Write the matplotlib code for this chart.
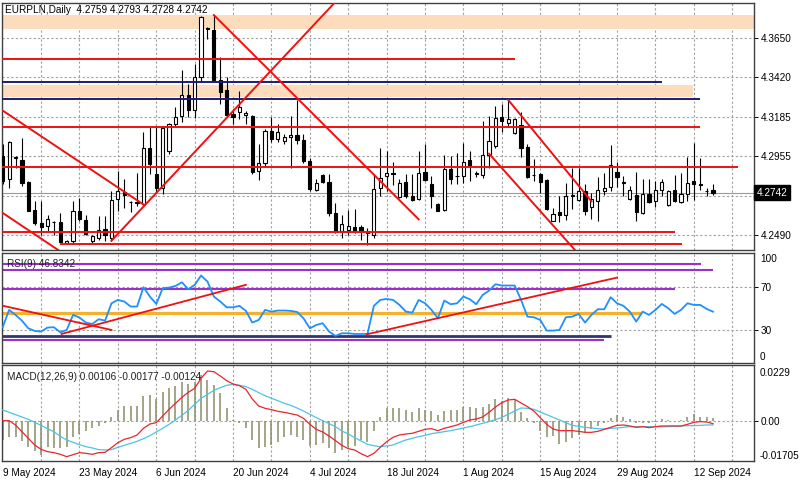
import matplotlib
matplotlib.use("Agg")
import matplotlib.pyplot as plt
import matplotlib.transforms as mtransforms
from matplotlib.patches import Rectangle

plt.rcParams['font.family'] = ['Liberation Sans', 'DejaVu Sans']

symbol = "EURPLN"
timeframe = "Daily"

opens = [4.2958, 4.2820, 4.2950, 4.2932, 4.2806, 4.2642, 4.2563, 4.2543, 4.2567, 4.2569,
         4.2447, 4.2455, 4.2636, 4.2583, 4.2455, 4.2478, 4.2530, 4.2478, 4.2707, 4.2747,
         4.2689, 4.2684, 4.2676, 4.3007, 4.2853, 4.2768, 4.2987, 4.3145, 4.3194, 4.3319,
         4.3230, 4.3421, 4.3709, 4.3697, 4.3405, 4.3346, 4.3204, 4.3214, 4.3200, 4.3194,
         4.2869, 4.2918, 4.3106, 4.3056, 4.3043, 4.3070, 4.3080, 4.3050, 4.2928, 4.2760,
         4.2845, 4.2806, 4.2622, 4.2514, 4.2524, 4.2540, 4.2540, 4.2514, 4.2490, 4.2770,
         4.2841, 4.2855, 4.2715, 4.2804, 4.2725, 4.2707, 4.2865, 4.2794, 4.2678, 4.2642,
         4.2879, 4.2837, 4.2839, 4.2934, 4.2857, 4.2843, 4.2964, 4.3017, 4.3188, 4.3149,
         4.3092, 4.3141, 4.3011, 4.2847, 4.2849, 4.2814, 4.2577, 4.2626, 4.2609, 4.2725,
         4.2701, 4.2751, 4.2656, 4.2695, 4.2751, 4.2776, 4.2865, 4.2802, 4.2705, 4.2727,
         4.2622, 4.2731, 4.2695, 4.2760, 4.2668, 4.2757, 4.2687, 4.2735, 4.2810, 4.2792,
         4.2753, 4.2759]
highs = [4.3027, 4.3047, 4.2958, 4.3066, 4.2810, 4.2691, 4.2691, 4.2609, 4.2577, 4.2622,
         4.2465, 4.2691, 4.2711, 4.2613, 4.2494, 4.2603, 4.2603, 4.2751, 4.2869, 4.2820,
         4.2695, 4.2859, 4.3096, 4.3129, 4.3135, 4.3135, 4.3149, 4.3244, 4.3465, 4.3378,
         4.3500, 4.3780, 4.3717, 4.3786, 4.3540, 4.3421, 4.3234, 4.3342, 4.3224, 4.3200,
         4.3027, 4.3116, 4.3188, 4.3145, 4.3086, 4.3194, 4.3287, 4.3086, 4.2948, 4.2820,
         4.2853, 4.2849, 4.2682, 4.2613, 4.2638, 4.2646, 4.2553, 4.2534, 4.2849, 4.3007,
         4.2987, 4.2924, 4.2820, 4.2849, 4.2849, 4.2987, 4.3027, 4.2839, 4.2682, 4.2964,
         4.2958, 4.2977, 4.3031, 4.2987, 4.2869, 4.3165, 4.3194, 4.3254, 4.3263, 4.3287,
         4.3181, 4.3214, 4.3027, 4.2938, 4.2859, 4.2820, 4.2652, 4.2721, 4.2800, 4.2889,
         4.2889, 4.2790, 4.2741, 4.2833, 4.2859, 4.3023, 4.2924, 4.2839, 4.2780, 4.2865,
         4.2820, 4.2820, 4.2810, 4.2820, 4.2760, 4.2845, 4.2859, 4.2954, 4.3031, 4.2944,
         4.2770, 4.2793]
lows = [4.2790, 4.2770, 4.2889, 4.2780, 4.2632, 4.2553, 4.2494, 4.2514, 4.2490, 4.2445,
        4.2441, 4.2445, 4.2573, 4.2490, 4.2445, 4.2465, 4.2455, 4.2455, 4.2632, 4.2652,
        4.2628, 4.2662, 4.2668, 4.2849, 4.2741, 4.2731, 4.2968, 4.3125, 4.3155, 4.3185,
        4.3181, 4.3392, 4.3648, 4.3398, 4.3263, 4.3188, 4.3145, 4.3175, 4.3145, 4.2853,
        4.2814, 4.2899, 4.3037, 4.3037, 4.3027, 4.2889, 4.3027, 4.2918, 4.2751, 4.2751,
        4.2800, 4.2603, 4.2504, 4.2474, 4.2490, 4.2504, 4.2465, 4.2435, 4.2478, 4.2721,
        4.2751, 4.2786, 4.2711, 4.2711, 4.2691, 4.2701, 4.2810, 4.2652, 4.2632, 4.2636,
        4.2790, 4.2790, 4.2800, 4.2810, 4.2833, 4.2829, 4.2889, 4.3007, 4.3096, 4.3125,
        4.3086, 4.2954, 4.2829, 4.2810, 4.2741, 4.2642, 4.2573, 4.2569, 4.2583, 4.2648,
        4.2695, 4.2609, 4.2587, 4.2573, 4.2727, 4.2751, 4.2774, 4.2721, 4.2701, 4.2577,
        4.2616, 4.2682, 4.2656, 4.2721, 4.2662, 4.2687, 4.2682, 4.2691, 4.2701, 4.2760,
        4.2721, 4.2728]
closes = [4.2810, 4.3041, 4.2946, 4.2796, 4.2636, 4.2563, 4.2538, 4.2589, 4.2571, 4.2451,
          4.2459, 4.2636, 4.2589, 4.2498, 4.2484, 4.2524, 4.2490, 4.2701, 4.2751, 4.2727,
          4.2685, 4.2680, 4.3003, 4.2908, 4.2770, 4.3123, 4.3145, 4.3188, 4.3319, 4.3228,
          4.3421, 4.3772, 4.3703, 4.3402, 4.3332, 4.3200, 4.3188, 4.3248, 4.3208, 4.2865,
          4.2918, 4.3106, 4.3060, 4.3096, 4.3070, 4.3082, 4.3050, 4.2928, 4.2766, 4.2800,
          4.2806, 4.2622, 4.2514, 4.2557, 4.2547, 4.2518, 4.2514, 4.2504, 4.2766, 4.2829,
          4.2855, 4.2851, 4.2800, 4.2721, 4.2701, 4.2859, 4.2816, 4.2721, 4.2636, 4.2879,
          4.2820, 4.2841, 4.2924, 4.2899, 4.2853, 4.2962, 4.3047, 4.3181, 4.3161, 4.3175,
          4.3175, 4.3003, 4.2835, 4.2843, 4.2806, 4.2648, 4.2616, 4.2609, 4.2725, 4.2729,
          4.2751, 4.2632, 4.2707, 4.2760, 4.2770, 4.2903, 4.2835, 4.2798, 4.2760, 4.2628,
          4.2731, 4.2687, 4.2757, 4.2806, 4.2751, 4.2691, 4.2731, 4.2800, 4.2790, 4.2788,
          4.2749, 4.2742]

rsi = [32.5, 48.5, 43.9, 38.6, 31.5, 29.1, 28.5, 32.2, 32.5, 27.8,
       30.0, 43.9, 41.4, 36.8, 35.5, 39.9, 38.6, 54.6, 57.7, 56.2,
       51.6, 51.6, 69.4, 60.8, 54.0, 68.5, 69.1, 70.6, 74.0, 67.5,
       71.6, 80.2, 74.6, 60.8, 56.2, 50.9, 50.9, 52.2, 47.6, 36.8,
       39.2, 48.5, 46.9, 47.9, 47.9, 47.6, 46.6, 40.8, 31.5, 34.6,
       36.2, 28.5, 24.5, 26.9, 26.9, 26.3, 26.3, 26.3, 52.2, 57.7,
       58.6, 57.7, 53.1, 46.9, 46.0, 57.7, 54.6, 48.5, 40.8, 57.1,
       53.7, 54.6, 60.8, 58.3, 53.7, 62.3, 66.3, 72.2, 71.0, 71.0,
       71.0, 57.7, 42.3, 41.7, 39.2, 29.4, 29.4, 30.0, 41.7, 42.3,
       44.8, 36.8, 43.9, 49.1, 49.1, 60.2, 54.6, 52.2, 46.9, 37.7,
       46.9, 43.9, 48.5, 54.0, 50.0, 44.8, 48.5, 54.6, 53.1, 53.1,
       49.4, 46.8342]

macd_main = [0.00000, 0.00000, -0.00179, -0.00455, -0.00730, -0.01005, -0.01185, -0.01281, -0.01322, -0.01391,
             -0.01488, -0.01405, -0.01322, -0.01350, -0.01391, -0.01322, -0.01309, -0.01116, -0.00909, -0.00771,
             -0.00702, -0.00592, -0.00317, -0.00138, -0.00083, 0.00193, 0.00468, 0.00716, 0.00964, 0.01171,
             0.01336, 0.01749, 0.02052, 0.02025, 0.01846, 0.01653, 0.01515, 0.01446, 0.01295, 0.00895,
             0.00606, 0.00510, 0.00455, 0.00386, 0.00344, 0.00289, 0.00234, 0.00096, -0.00152, -0.00358,
             -0.00468, -0.00634, -0.00826, -0.01019, -0.01157, -0.01212, -0.01364, -0.01488, -0.01350, -0.01102,
             -0.00868, -0.00689, -0.00592, -0.00551, -0.00523, -0.00441, -0.00358, -0.00331, -0.00413, -0.00317,
             -0.00248, -0.00179, -0.00069, 0.00028, 0.00069, 0.00152, 0.00344, 0.00565, 0.00744, 0.00854,
             0.00882, 0.00730, 0.00578, 0.00399, 0.00124, -0.00152, -0.00344, -0.00413, -0.00413, -0.00413,
             -0.00441, -0.00482, -0.00482, -0.00441, -0.00358, -0.00275, -0.00193, -0.00179, -0.00220, -0.00275,
             -0.00248, -0.00289, -0.00248, -0.00220, -0.00220, -0.00220, -0.00220, -0.00152, -0.00069, -0.00041,
             -0.00055, -0.00124]
macd_signal = [0.00441, 0.00344, 0.00248, 0.00152, 0.00055, -0.00069, -0.00193, -0.00331, -0.00455, -0.00647,
               -0.00799, -0.00895, -0.00992, -0.01074, -0.01129, -0.01198, -0.01212, -0.01198, -0.01102, -0.01019,
               -0.00937, -0.00854, -0.00744, -0.00620, -0.00468, -0.00317, -0.00152, 0.00028, 0.00220, 0.00427,
               0.00675, 0.00923, 0.01088, 0.01253, 0.01363, 0.01460, 0.01501, 0.01460, 0.01405, 0.01295,
               0.01157, 0.01033, 0.00923, 0.00826, 0.00716, 0.00634, 0.00523, 0.00399, 0.00262, 0.00124,
               0.00000, -0.00124, -0.00248, -0.00427, -0.00551, -0.00702, -0.00840, -0.00978, -0.01033, -0.01074,
               -0.01047, -0.01005, -0.00895, -0.00799, -0.00730, -0.00661, -0.00606, -0.00537, -0.00496, -0.00455,
               -0.00413, -0.00358, -0.00303, -0.00248, -0.00179, -0.00110, -0.00041, 0.00041, 0.00138, 0.00262,
               0.00399, 0.00523, 0.00510, 0.00468, 0.00358, 0.00248, 0.00138, 0.00028, -0.00083, -0.00193,
               -0.00234, -0.00275, -0.00303, -0.00331, -0.00344, -0.00317, -0.00303, -0.00275, -0.00248, -0.00248,
               -0.00248, -0.00248, -0.00248, -0.00248, -0.00248, -0.00234, -0.00220, -0.00207, -0.00207, -0.00193,
               -0.00179, -0.00177]
macd_hist = [-0.00799, -0.00661, -0.00661, -0.00826, -0.01074, -0.01239, -0.01418, -0.01102, -0.01143, -0.01143,
             -0.01102, -0.00689, -0.00551, -0.00413, -0.00317, -0.00220, -0.00110, 0.00138, 0.00441, 0.00620,
             0.00620, 0.00620, 0.01019, 0.01060, 0.00881, 0.01198, 0.01363, 0.01432, 0.01611, 0.01515,
             0.01611, 0.01886, 0.01680, 0.01473, 0.01129, 0.00510, 0.00020, -0.00083, -0.00317, -0.00799,
             -0.01143, -0.01102, -0.01005, -0.00868, -0.00661, -0.00592, -0.00661, -0.00799, -0.01047, -0.01005,
             -0.00936, -0.01143, -0.01322, -0.01212, -0.01074, -0.01047, -0.00799, -0.00868, -0.00413, 0.00138,
             0.00510, 0.00537, 0.00510, 0.00441, 0.00372, 0.00510, 0.00441, 0.00413, 0.00234, 0.00413,
             0.00441, 0.00441, 0.00551, 0.00578, 0.00510, 0.00578, 0.00689, 0.00881, 0.00826, 0.00923,
             0.00881, 0.00372, 0.00096, -0.00083, -0.00413, -0.00689, -0.00633, -0.00964, -0.00868, -0.00730,
             -0.00592, -0.00496, -0.00358, -0.00220, -0.00110, 0.00096, 0.00234, 0.00165, 0.00055, -0.00083,
             -0.00083, -0.00110, -0.00041, 0.00055, 0.00028, 0.00000, 0.00028, 0.00165, 0.00262, 0.00165,
             0.00138, 0.00106]

date_ticks = [0, 12, 24, 36, 48, 60, 72, 84, 96, 108]
date_labels = ["9 May 2024", "23 May 2024", "6 Jun 2024", "20 Jun 2024", "4 Jul 2024",
               "18 Jul 2024", "1 Aug 2024", "15 Aug 2024", "29 Aug 2024", "12 Sep 2024"]
price_ticks = [4.3650, 4.3420, 4.3185, 4.2955, 4.2490]
price_grid = [4.3650, 4.3420, 4.3185, 4.2955, 4.2720, 4.2490]

# drawn objects (bar index, price)
zone_low = [4.3707, 4.3303]
zone_high = [4.3786, 4.3372]
zone_end = [118.0, 107.8]
red_levels = [4.3528, 4.3128, 4.2893, 4.2508, 4.2439]
red_start = [-1.0, -1.0, -1.0, -1.0, 9.0]
red_end = [80.0, 109.0, 114.9, 105.0, 106.1]
navy_levels = [4.3391, 4.3290]
navy_end = [103.0, 109.0]
trend_x0 = [-0.5, -0.5, 17.0, 33.0, 79.0, 76.0]
trend_p0 = [4.3237, 4.2635, 4.2459, 4.3786, 4.3287, 4.2971]
trend_x1 = [22.0, 10.0, 52.0, 65.0, 92.0, 90.0]
trend_p1 = [4.2672, 4.2371, 4.3864, 4.2585, 4.2691, 4.2380]

rsi_levels = [91.0, 85.4, 68.1, 45.4, 24.7, 20.5]
rsi_level_end = [109.1, 111.0, 105.0, 99.8, 95.0, 94.0]
rsi_level_color = ["#9932cc", "#9932cc", "#9932cc", "#f5b02c", "#33336e", "#9932cc"]
rsi_level_lw = [1.5, 1.5, 1.5, 2.3, 2.0, 1.5]
rsi_tr_x0 = [0.1, 9.2, 56.9]
rsi_tr_v0 = [52.2, 26.3, 26.0]
rsi_tr_x1 = [17.0, 38.0, 96.0]
rsi_tr_v1 = [30.0, 71.6, 78.3]

W, H = 800, 480
fig = plt.figure(figsize=(8, 4.8), dpi=100)
fig.patch.set_facecolor("white")


def px_axes(x0, y0, x1, y1):
    return fig.add_axes([x0 / W, 1 - y1 / H, (x1 - x0) / W, (y1 - y0) / H])


ax = px_axes(2, 3, 754, 250)
ar = px_axes(2, 253, 754, 363)
am = px_axes(2, 365, 754, 461)

XL = (-0.11, 117.4)
grid_kw = dict(color="#a0a0a0", lw=0.8, ls=(0, (2, 2)), zorder=0)
FS = 7.2

for a in (ax, ar, am):
    a.set_xlim(*XL)
    a.set_facecolor("white")
    for s in a.spines.values():
        s.set_color("#404040")
        s.set_linewidth(1.0)
    for gx in range(6, 118, 6):
        a.axvline(gx, **grid_kw)
    a.yaxis.tick_right()
    a.tick_params(axis="y", direction="out", length=3, width=0.7, pad=2,
                  labelsize=FS, colors="black")
    a.tick_params(axis="x", length=0)
    a.set_xticks([])

# ---------------- main price panel
ax.set_ylim(4.24046, 4.38571)
for g in price_grid:
    ax.axhline(g, **grid_kw)
ax.set_yticks(price_ticks)
ax.set_yticklabels([f"{t:.4f}" for t in price_ticks])

for lo, hi, xe in zip(zone_low, zone_high, zone_end):
    ax.add_patch(Rectangle((-2, lo), xe + 2, hi - lo, facecolor="#fcdcbc",
                           edgecolor="none", zorder=0.5))

last = closes[-1]
ax.axhline(last, color="#9a9a9a", lw=0.8, zorder=1)

bw = 0.5
for i, (o, h, l, c) in enumerate(zip(opens, highs, lows, closes)):
    ax.vlines(i, l, h, color="black", lw=0.8, zorder=3)
    bottom = min(o, c)
    height = max(abs(c - o), 0.00004)
    fc = "white" if c >= o else "black"
    ax.add_patch(Rectangle((i - bw / 2, bottom), bw, height, facecolor=fc,
                           edgecolor="black", lw=0.8, zorder=4))

for p, xs, xe in zip(red_levels, red_start, red_end):
    ax.plot([xs, xe], [p, p], color="#ee1111", lw=1.4, zorder=5, solid_capstyle="butt")
for p, xe in zip(navy_levels, navy_end):
    ax.plot([-1, xe], [p, p], color="#1c1c78", lw=1.4, zorder=5, solid_capstyle="butt")
for x0, p0, x1, p1 in zip(trend_x0, trend_p0, trend_x1, trend_p1):
    ax.plot([x0, x1], [p0, p1], color="#ee1111", lw=1.4, zorder=5)

tr = mtransforms.blended_transform_factory(ax.transAxes, ax.transData)
ax.text(1.003, last, f"{last:.4f}", transform=tr, ha="left", va="center",
        fontsize=FS, color="white", zorder=10,
        bbox=dict(boxstyle="square,pad=0.25", facecolor="black", edgecolor="black"))

fig.text(5 / W, 1 - 10 / H,
         f"{symbol},{timeframe}  {opens[-1]:.4f} {highs[-1]:.4f} {lows[-1]:.4f} {closes[-1]:.4f}",
         fontsize=FS, color="black", va="center", ha="left")

# ---------------- RSI panel
ar.set_ylim(-0.5, 101)
for g in (70, 30):
    ar.axhline(g, **grid_kw)
ar.set_yticks([70, 30])
ar.set_yticklabels(["70", "30"])
rt = mtransforms.blended_transform_factory(ar.transAxes, ar.transAxes)
ar.text(1.008, 0.943, "100", transform=rt, fontsize=FS, va="center", ha="left")
ar.text(1.008, 0.052, "0", transform=rt, fontsize=FS, va="center", ha="left")
for v, xe, col, lw in zip(rsi_levels, rsi_level_end, rsi_level_color, rsi_level_lw):
    ar.plot([-1, xe], [v, v], color=col, lw=lw, zorder=2, solid_capstyle="butt")
for x0, v0, x1, v1 in zip(rsi_tr_x0, rsi_tr_v0, rsi_tr_x1, rsi_tr_v1):
    ar.plot([x0, x1], [v0, v1], color="#ee1111", lw=1.3, zorder=4)
ar.plot(range(len(rsi)), rsi, color="#1e90ff", lw=1.3, zorder=3)
ar.text(5 / 752, 0.90, f"RSI(9) {rsi[-1]:.4f}", transform=ar.transAxes,
        fontsize=FS, va="center", ha="left", color="#202020", zorder=6)

# ---------------- MACD panel
am.set_ylim(-0.01667, 0.0230)
am.axhline(0, **grid_kw)
am.set_yticks([0.0])
am.set_yticklabels(["0.00"])
mt = mtransforms.blended_transform_factory(am.transAxes, am.transAxes)
am.text(1.008, 0.917, "0.0229", transform=mt, fontsize=FS, va="center", ha="left")
am.text(1.008, 0.055, "-0.01705", transform=mt, fontsize=FS, va="center", ha="left")
am.vlines(range(len(macd_hist)), 0, macd_hist, color="#8c8c68", lw=1.1, zorder=2)
am.plot(range(len(macd_signal)), macd_signal, color="#4cc3e6", lw=0.9, zorder=3)
am.plot(range(len(macd_main)), macd_main, color="#e8262c", lw=0.9, zorder=4)
am.text(5 / 752, 0.87,
        f"MACD(12,26,9) {macd_hist[-1]:.5f} {macd_signal[-1]:.5f} {macd_main[-1]:.5f}",
        transform=am.transAxes, fontsize=FS, va="center", ha="left", color="#202020", zorder=6)

am.set_xticks(date_ticks)
am.set_xticklabels(date_labels, ha="left", fontsize=FS)
am.tick_params(axis="x", length=0, pad=5)

fig.savefig("out.png", dpi=100, facecolor="white")
